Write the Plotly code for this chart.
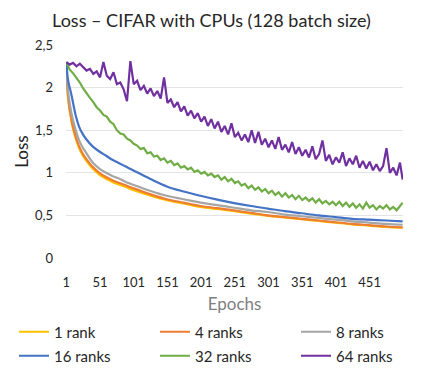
import plotly.graph_objects as go

# ---- data ----
epochs_smooth = [1, 3, 5, 7, 10, 15, 20, 25, 30, 40, 50, 60, 70, 80, 90, 100, 125, 150, 175, 200,
                 225, 250, 275, 300, 325, 350, 375, 400, 425, 450, 475, 500]

rank1 = [2.30, 1.93, 1.78, 1.68, 1.55, 1.40, 1.29, 1.21, 1.15, 1.05, 0.98, 0.93, 0.89, 0.86, 0.83, 0.80,
         0.735, 0.68, 0.64, 0.60, 0.575, 0.55, 0.52, 0.495, 0.475, 0.455, 0.435, 0.415, 0.395, 0.38, 0.365, 0.355]
rank4 = [2.30, 1.95, 1.80, 1.70, 1.57, 1.42, 1.31, 1.23, 1.17, 1.07, 1.00, 0.95, 0.91, 0.88, 0.85, 0.82,
         0.75, 0.69, 0.65, 0.61, 0.585, 0.56, 0.53, 0.50, 0.48, 0.46, 0.44, 0.42, 0.40, 0.385, 0.37, 0.36]
rank8 = [2.30, 2.00, 1.87, 1.77, 1.65, 1.50, 1.38, 1.30, 1.24, 1.12, 1.05, 1.00, 0.96, 0.93, 0.89, 0.86,
         0.79, 0.73, 0.69, 0.65, 0.62, 0.59, 0.56, 0.54, 0.51, 0.49, 0.47, 0.45, 0.43, 0.415, 0.40, 0.39]
rank16 = [2.30, 2.12, 2.03, 1.97, 1.86, 1.67, 1.54, 1.46, 1.40, 1.31, 1.25, 1.20, 1.15, 1.11, 1.07, 1.03,
          0.93, 0.84, 0.78, 0.73, 0.685, 0.645, 0.61, 0.58, 0.55, 0.525, 0.50, 0.48, 0.46, 0.45, 0.44, 0.43]

epochs_noisy = list(range(1, 500, 5)) + [500]

rank32 = [2.30, 2.21, 2.17, 2.12, 2.06, 1.99, 1.93, 1.88, 1.83, 1.77,
          1.73, 1.68, 1.66, 1.60, 1.57, 1.50, 1.46, 1.45, 1.40, 1.38,
          1.34, 1.32, 1.28, 1.29, 1.23, 1.24, 1.19, 1.20, 1.15, 1.17,
          1.12, 1.14, 1.09, 1.11, 1.06, 1.08, 1.04, 1.06, 1.01, 1.03,
          0.99, 1.01, 0.97, 0.99, 0.95, 0.97, 0.92, 0.95, 0.90, 0.93,
          0.88, 0.90, 0.85, 0.87, 0.82, 0.85, 0.80, 0.83, 0.78, 0.81,
          0.76, 0.79, 0.74, 0.77, 0.72, 0.76, 0.71, 0.74, 0.69, 0.73,
          0.68, 0.71, 0.67, 0.70, 0.65, 0.69, 0.64, 0.67, 0.63, 0.66,
          0.62, 0.66, 0.61, 0.65, 0.60, 0.64, 0.59, 0.63, 0.58, 0.65,
          0.59, 0.62, 0.57, 0.61, 0.58, 0.62, 0.57, 0.60, 0.56, 0.61,
          0.65]

rank64 = [2.30, 2.27, 2.29, 2.25, 2.28, 2.24, 2.20, 2.22, 2.16, 2.19,
          2.12, 2.30, 2.14, 2.10, 2.18, 2.04, 2.06, 1.98, 1.84, 2.31,
          2.04, 2.08, 1.97, 2.02, 1.93, 1.99, 1.90, 1.96, 1.87, 2.12,
          1.82, 1.86, 1.77, 1.83, 1.72, 1.78, 1.67, 1.73, 1.64, 1.70,
          1.60, 1.66, 1.55, 1.63, 1.52, 1.60, 1.48, 1.55, 1.45, 1.58,
          1.42, 1.47, 1.38, 1.45, 1.36, 1.50, 1.35, 1.48, 1.33, 1.40,
          1.30, 1.38, 1.28, 1.42, 1.27, 1.33, 1.24, 1.36, 1.22, 1.30,
          1.20, 1.27, 1.18, 1.31, 1.16, 1.22, 1.38, 1.14, 1.21, 1.10,
          1.18, 1.12, 1.24, 1.08, 1.17, 1.10, 1.20, 1.06, 1.14, 1.05,
          1.13, 1.03, 1.10, 1.02, 1.08, 1.29, 1.00, 1.06, 0.97, 1.12,
          0.92]

x_tick_vals = [1, 51, 101, 151, 201, 251, 301, 351, 401, 451]
y_tick_vals = [0, 0.5, 1, 1.5, 2, 2.5]
y_tick_text = ["0", "0,5", "1", "1,5", "2", "2,5"]

series = [
    ("1 rank", epochs_smooth, rank1, "#FFC000", "spline"),
    ("4 ranks", epochs_smooth, rank4, "#ED7D31", "spline"),
    ("8 ranks", epochs_smooth, rank8, "#A5A5A5", "spline"),
    ("16 ranks", epochs_smooth, rank16, "#4472C4", "spline"),
    ("32 ranks", epochs_noisy, rank32, "#70AD47", "linear"),
    ("64 ranks", epochs_noisy, rank64, "#7030A0", "linear"),
]

W, H = 423, 376
legend_ids = ["legend2", "legend3", "legend4", "legend5", "legend6", "legend7"]
legend_px_x = [14, 155, 296, 14, 155, 296]
legend_px_y = [332, 332, 332, 356, 356, 356]

fig = go.Figure()
for (name, xs, ys, color, shape), leg in zip(series, legend_ids):
    fig.add_trace(go.Scatter(x=xs, y=ys, name=name, mode="lines", showlegend=True,
                             line=dict(color=color, width=2.2, shape=shape),
                             legend=leg))

legend_layout = {}
for leg, lx, ly in zip(legend_ids, legend_px_x, legend_px_y):
    legend_layout[leg] = dict(orientation="h", xref="container", yref="container",
                              x=lx / W, y=1 - ly / H, xanchor="left", yanchor="middle",
                              font=dict(family="Lato", size=15, color="#262626"),
                              bgcolor="rgba(0,0,0,0)", itemwidth=30)

fig.update_layout(
    width=W, height=H,
    showlegend=True,
    margin=dict(l=66, r=20, t=45, b=118, autoexpand=False),
    paper_bgcolor="white", plot_bgcolor="white",
    separators=",.",
    title=dict(text="Loss – CIFAR with CPUs (128 batch size)", x=0.5, xanchor="center",
               y=1 - 21 / H, yanchor="middle",
               font=dict(family="Lato", size=18, color="#262626")),
    xaxis=dict(range=[0.5, 500.5], tickvals=x_tick_vals, ticktext=[str(v) for v in x_tick_vals],
               showgrid=False, zeroline=False, showline=False, ticks="", ticklabelstandoff=15,
               tickfont=dict(family="Lato", size=13, color="#262626"),
               title=dict(text="Epochs", font=dict(family="Lato", size=17, color="#7F7F7F"), standoff=9)),
    yaxis=dict(range=[0, 2.5], tickvals=y_tick_vals, ticktext=y_tick_text,
               showgrid=True, gridcolor="#E4E4E4", gridwidth=1, zeroline=False, showline=False,
               ticks="", ticklabelstandoff=12,
               tickfont=dict(family="Lato", size=13, color="#262626"),
               title=dict(text="Loss", font=dict(family="Lato", size=17, color="#262626"), standoff=2)),
    **legend_layout,
)

fig.write_html("out.html", config={"displayModeBar": False},
               post_script="document.body.style.margin='0px';")
